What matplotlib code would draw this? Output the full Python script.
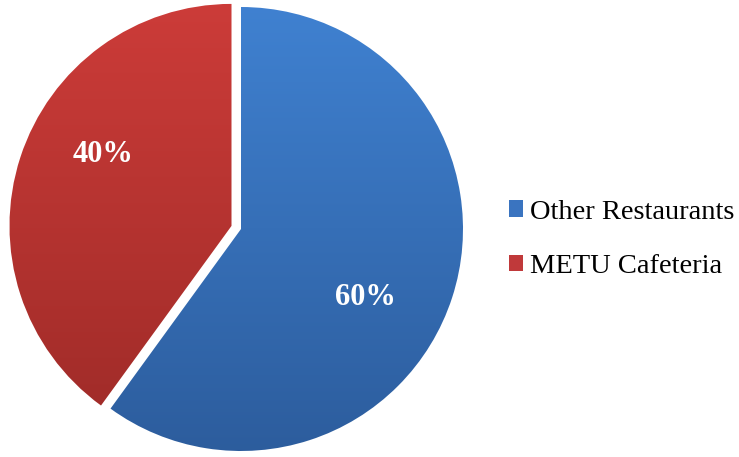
import numpy as np
import matplotlib.pyplot as plt
from matplotlib.colors import LinearSegmentedColormap
from matplotlib.patches import Patch

# Données
categories = ["Other Restaurants", "METU Cafeteria"]
parts = [60, 40]
couleurs_haut = ["#4082d2", "#cd3c39"]
couleurs_bas = ["#2c5c9c", "#9c2a27"]
couleurs_legende = ["#3a74c0", "#c0393a"]

plt.rcParams['font.family'] = ['Liberation Serif', 'DejaVu Serif']

fig = plt.figure(figsize=(7.39, 4.57), dpi=100)
# axe carré centré sur (241, 229) px, rayon 222 px
lim = 1.1
taille = 2 * lim * 222
ax = fig.add_axes([(241 - taille / 2) / 739, (228 - taille / 2) / 457,
                   taille / 739, taille / 457])

wedges, _ = ax.pie(parts, startangle=90, counterclock=False,
                   explode=[0, 0.045], radius=1,
                   wedgeprops=dict(linewidth=0))
ax.set_aspect('equal')
ax.axis('off')

# dégradé vertical dans chaque secteur
grad = np.linspace(0, 1, 256).reshape(-1, 1)
for w, haut, bas in zip(wedges, couleurs_haut, couleurs_bas):
    w.set_facecolor('none')
    cmap = LinearSegmentedColormap.from_list('g', [haut, bas])
    im = ax.imshow(grad, cmap=cmap, aspect='auto',
                   extent=[-1.1, 1.1, -1.05, 1.05], origin='upper',
                   zorder=1, interpolation='bilinear')
    im.set_clip_path(w)

ax.set_xlim(-lim, lim)
ax.set_ylim(-lim, lim)

# étiquettes de pourcentage
pos_etiquettes = [(0.56, -0.31), (-0.62, 0.335)]
for (x, y), p in zip(pos_etiquettes, parts):
    ax.text(x, y, f"{p}%", color='white', fontsize=22, fontweight='bold',
            ha='center', va='center', zorder=3)

handles = [Patch(facecolor=c, edgecolor='none') for c in couleurs_legende]
fig.legend(handles, categories, loc='center left',
           bbox_to_anchor=(483 / 739, 0.476), frameon=False, fontsize=20.5,
           handlelength=0.5, handleheight=0.5, handletextpad=0.25,
           labelspacing=1.05)

fig.savefig("out.png", dpi=100)
